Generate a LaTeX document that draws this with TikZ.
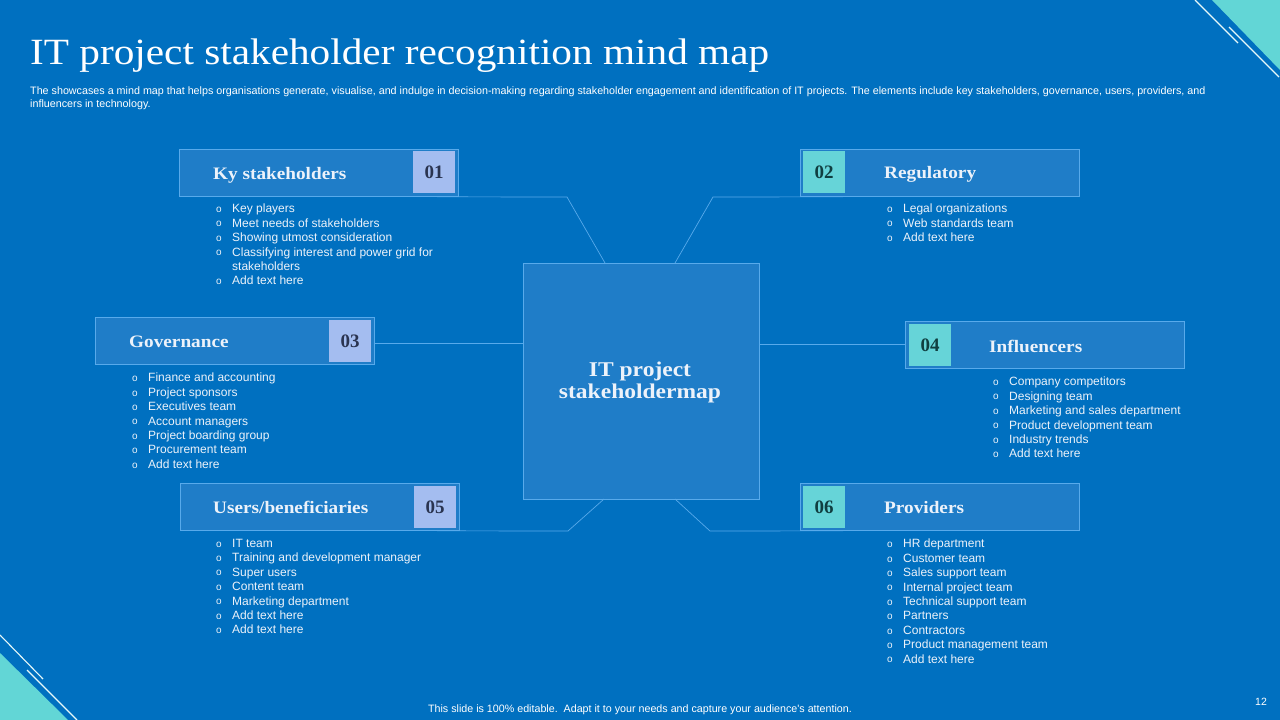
\documentclass[tikz,border=0pt]{standalone}
\usepackage{fontspec}
\setmainfont{Liberation Serif}
\newfontfamily\arialf{Liberation Sans}
\definecolor{bgblue}{RGB}{0,112,192}
\definecolor{boxfill}{RGB}{31,125,200}
\definecolor{boxline}{RGB}{88,170,235}
\definecolor{peri}{RGB}{164,189,240}
\definecolor{perit}{RGB}{42,52,80}
\definecolor{cyanbx}{RGB}{102,212,216}
\definecolor{cyant}{RGB}{16,62,64}
\definecolor{cornercyan}{RGB}{98,214,214}
\definecolor{txtlight}{RGB}{236,242,250}
\newcommand{\bl}{\makebox[16pt][l]{\raisebox{0.3pt}{\fontsize{10}{10}\selectfont o}}}
\newcommand{\wide}[1]{\scalebox{1.1}[1]{#1}}
\begin{document}
\begin{tikzpicture}[x=1pt,y=-1pt,
  card/.style={draw=boxline, fill=boxfill, line width=0.8pt, anchor=north west, minimum width=279pt, minimum height=47pt, inner sep=0pt},
  numperi/.style={fill=peri, text=perit, anchor=north west, minimum width=42pt, minimum height=42pt, inner sep=0pt, font=\bfseries\fontsize{19}{19}\selectfont},
  numcyan/.style={fill=cyanbx, text=cyant, anchor=north west, minimum width=42pt, minimum height=42pt, inner sep=0pt, font=\bfseries\fontsize{19}{19}\selectfont},
  cardtitle/.style={anchor=west, text=txtlight, inner sep=0pt, font=\bfseries\fontsize{17.5}{17.5}\selectfont},
  blist/.style={anchor=north west, align=left, text=txtlight, inner sep=0pt, font=\arialf\fontsize{12}{14.4}\selectfont},
  conn/.style={draw=boxline, line width=0.7pt},
  deco/.style={draw=white!85!cornercyan, line width=1.1pt}
]
\fill[bgblue] (0,0) rectangle (1280,720);
\useasboundingbox (0,0) rectangle (1280,720);

% corner decorations
\fill[cornercyan] (1212,0) -- (1280,0) -- (1280,70) -- cycle;
\draw[deco] (1195,0) -- (1238,43);
\draw[deco] (1229,27) -- (1279,77);
\fill[cornercyan] (0,653) -- (0,720) -- (68,720) -- cycle;
\draw[deco] (0,635) -- (43,679);
\draw[deco] (27,670) -- (77,720);

% title and subtitle
\node[anchor=base west, text=white, inner sep=0pt, font=\fontsize{37}{37}\selectfont] (title) at (30,64) {\scalebox{1.115}[1]{IT project stakeholder recognition mind map}};
\node[anchor=north west, align=left, text=white, inner sep=0pt, font=\arialf\fontsize{10.74}{13}\selectfont] (sub) at (30,87)
 {The showcases a mind map that helps organisations generate, visualise, and indulge in decision-making regarding stakeholder engagement and identification of IT projects. The elements include key stakeholders, governance, users, providers, and\\ influencers in technology.};

% center
\node[draw=boxline, fill=boxfill, line width=0.8pt, anchor=north west, minimum width=236pt, minimum height=236pt, inner sep=0pt] (center) at (523,263) {};
\node[align=center, text=txtlight, inner sep=0pt, font=\bfseries\fontsize{21}{22}\selectfont] (ctext) at (640,382) {\scalebox{1.12}[1]{IT project}\\\scalebox{1.12}[1]{stakeholdermap}};

% card 01
\node[card] (box1) at (179,149) {};
\node[numperi] (num1) at (413,151) {01};
\node[cardtitle] (t1) at (213,175) {\wide{Ky stakeholders}};
\node[blist] (l1) at (216,204) {\bl Key players\\\bl Meet needs of stakeholders\\\bl Showing utmost consideration\\\bl Classifying interest and power grid for\\\hspace*{16pt}stakeholders\\\bl Add text here};

% card 02
\node[card] (box2) at (800,149) {};
\node[numcyan] (num2) at (803,151) {02};
\node[cardtitle] (t2) at (884,174) {\wide{Regulatory}};
\node[blist] (l2) at (887,204) {\bl Legal organizations\\\bl Web standards team\\\bl Add text here};

% card 03
\node[card] (box3) at (95,317) {};
\node[numperi] (num3) at (329,320) {03};
\node[cardtitle] (t3) at (129,342) {\wide{Governance}};
\node[blist] (l3) at (132,373) {\bl Finance and accounting\\\bl Project sponsors\\\bl Executives team\\\bl Account managers\\\bl Project boarding group\\\bl Procurement team\\\bl Add text here};

% card 04
\node[card] (box4) at (905,321) {};
\node[numcyan] (num4) at (909,324) {04};
\node[cardtitle] (t4) at (989,346) {\wide{Influencers}};
\node[blist] (l4) at (993,377) {\bl Company competitors\\\bl Designing team\\\bl Marketing and sales department\\\bl Product development team\\\bl Industry trends\\\bl Add text here};

% card 05
\node[card] (box5) at (180,483) {};
\node[numperi] (num5) at (414,486) {05};
\node[cardtitle] (t5) at (213,507.5) {\wide{Users/beneficiaries}};
\node[blist] (l5) at (216,539) {\bl IT team\\\bl Training and development manager\\\bl Super users\\\bl Content team\\\bl Marketing department\\\bl Add text here\\\bl Add text here};

% card 06
\node[card] (box6) at (800,483) {};
\node[numcyan] (num6) at (803,486) {06};
\node[cardtitle] (t6) at (884,508) {\wide{Providers}};
\node[blist] (l6) at (887,539) {\bl HR department\\\bl Customer team\\\bl Sales support team\\\bl Internal project team\\\bl Technical support team\\\bl Partners\\\bl Contractors\\\bl Product management team\\\bl Add text here};

% connectors
\coordinate (k1) at (567,197);
\coordinate (e1) at (605,263);
\draw[conn] (box1.south east -| 437,0) -- (k1) -- (e1);
\coordinate (k2) at (713,197);
\coordinate (e2) at (675,263);
\draw[conn] (box2.south west -| 843,0) -- (k2) -- (e2);
\draw[conn] (box3.east |- 0,343) -- (center.west |- 0,343);
\draw[conn] (center.east |- 0,344) -- (box4.west |- 0,344);
\coordinate (k5) at (568,531);
\coordinate (e5) at (604,499);
\draw[conn] (box5.south east -| 437,0) -- (k5) -- (e5);
\coordinate (k6) at (710,531);
\coordinate (e6) at (675,499);
\draw[conn] (box6.south west -| 843,0) -- (k6) -- (e6);

% footer
\node[text=white, inner sep=0pt, font=\arialf\fontsize{10.7}{10.7}\selectfont] (foot) at (640,710) {This slide is 100\% editable.\ \ Adapt it to your needs and capture your audience's attention.};
\node[text=white, inner sep=0pt, font=\arialf\fontsize{10.5}{10.5}\selectfont] (pg) at (1261,702) {12};
\end{tikzpicture}
\end{document}
